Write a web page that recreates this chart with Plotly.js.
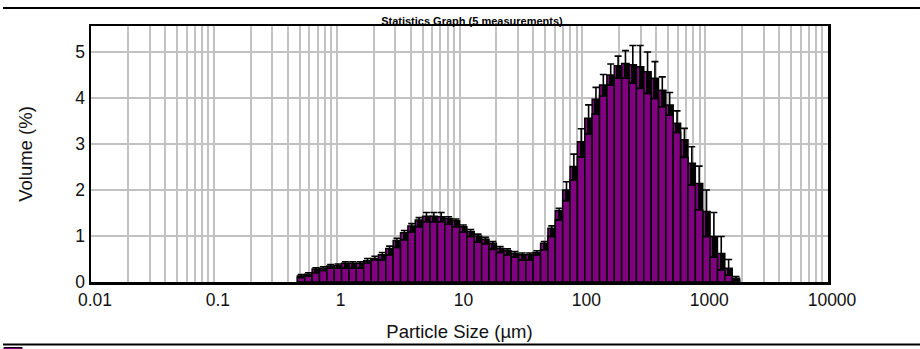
<!DOCTYPE html>
<html>
<head>
<meta charset="utf-8">
<script src="https://cdn.plot.ly/plotly-3.0.1.min.js"></script>
<style>html,body{margin:0;padding:0;background:#fff;}#chart{width:920px;height:349px;}</style>
</head>
<body>
<div id="chart"></div>
<script>
// Size class edges (µm) of the non-empty bins
const sizeEdges = [0.4786, 0.5495, 0.6310, 0.7244, 0.8318, 0.9550, 1.096, 1.259, 1.445, 1.660,
  1.905, 2.188, 2.512, 2.884, 3.311, 3.802, 4.365, 5.012, 5.754, 6.607,
  7.586, 8.710, 10.00, 11.48, 13.18, 15.14, 17.38, 19.95, 22.91, 26.30,
  30.20, 34.67, 39.81, 45.71, 52.48, 60.26, 69.18, 79.43, 91.20, 104.7,
  120.2, 138.0, 158.5, 182.0, 208.9, 239.9, 275.4, 316.2, 363.1, 416.9,
  478.6, 549.5, 631.0, 724.4, 831.8, 955.0, 1096, 1259, 1445, 1660, 1905];

// Mean volume (%) per bin (purple bars)
const volumeMean = [0.10, 0.13, 0.20, 0.25, 0.30, 0.30, 0.30, 0.30, 0.30, 0.42,
  0.48, 0.48, 0.59, 0.75, 0.92, 1.09, 1.20, 1.31, 1.31, 1.31,
  1.26, 1.20, 1.09, 0.99, 0.87, 0.83, 0.71, 0.64, 0.59, 0.54,
  0.48, 0.48, 0.59, 0.70, 0.99, 1.35, 1.77, 2.22, 2.72, 3.22,
  3.65, 4.05, 4.28, 4.43, 4.43, 4.32, 4.21, 4.10, 3.99, 3.81,
  3.63, 3.25, 2.71, 2.11, 1.57, 0.99, 0.54, 0.26, 0.15, 0.04];

// Highest measured volume (%) per bin (outer bars)
const volumeMax = [0.13, 0.17, 0.28, 0.30, 0.35, 0.36, 0.41, 0.41, 0.41, 0.46,
  0.51, 0.59, 0.73, 0.90, 1.07, 1.22, 1.35, 1.43, 1.43, 1.42,
  1.38, 1.33, 1.20, 1.10, 1.00, 0.93, 0.84, 0.73, 0.68, 0.62,
  0.59, 0.59, 0.64, 0.84, 1.17, 1.55, 2.00, 2.51, 3.05, 3.56,
  3.97, 4.28, 4.50, 4.70, 4.75, 4.72, 4.68, 4.57, 4.43, 4.17,
  3.85, 3.45, 3.09, 2.58, 2.14, 1.53, 0.99, 0.62, 0.30, 0.08];

// Top of the error bar (%) per bin
const volumeErrTop = [0.16, 0.20, 0.31, 0.33, 0.38, 0.39, 0.44, 0.44, 0.44, 0.51,
  0.56, 0.64, 0.78, 0.95, 1.12, 1.27, 1.40, 1.51, 1.51, 1.51,
  1.42, 1.37, 1.24, 1.14, 1.04, 0.97, 0.88, 0.77, 0.72, 0.66,
  0.63, 0.63, 0.68, 0.88, 1.22, 1.60, 2.18, 2.78, 3.33, 3.85,
  4.23, 4.51, 4.74, 4.91, 5.03, 5.14, 5.14, 5.00, 4.79, 4.46,
  4.12, 3.72, 3.34, 2.94, 2.52, 2.00, 1.51, 0.99, 0.49, 0.12];

const decadeTicks = [0.01, 0.1, 1, 10, 100, 1000, 10000];
const decadeLabels = ['0.01', '0.1', '1', '10', '100', '1000', '10000'];
const yTicks = [0, 1, 2, 3, 4, 5];

// derived geometry
const lo = sizeEdges.slice(0, -1);
const hi = sizeEdges.slice(1);
const widths = lo.map((v, i) => hi[i] - v);
const bandLo = lo.map((v, i) => v * Math.pow(hi[i] / v, 0.3));
const bandW = bandLo.map((v, i) => hi[i] - v);
const bandH = volumeMax.map((v, i) => Math.max(v - volumeMean[i], 0));
const errUp = volumeErrTop.map((v, i) => v - volumeMean[i]);

// gridline positions
const gridVals = [], gridText = [];
decadeTicks.forEach((d, k) => {
  for (let m = 1; m <= 9; m++) {
    if (k === decadeTicks.length - 1 && m > 1) break;
    gridVals.push(d * m);
    gridText.push(m === 1 ? decadeLabels[k] : '');
  }
});

const purple = '#800080';
const traces = [
  { type: 'bar', x: lo, y: volumeMax, width: widths, offset: 0,
    marker: { color: purple, line: { color: '#000', width: 1.5 } }, hoverinfo: 'skip' },
  { type: 'bar', x: bandLo, y: bandH, base: volumeMean, width: bandW, offset: 0,
    marker: { color: '#000', line: { color: '#000', width: 0 } }, hoverinfo: 'skip' },
  { type: 'bar', x: lo, y: volumeMean, width: widths, offset: 0,
    marker: { color: purple, line: { color: '#000', width: 1.5 } }, hoverinfo: 'skip',
    error_y: { type: 'data', symmetric: false, array: errUp, arrayminus: errUp.map(() => 0),
      color: '#000', thickness: 1.6, width: 3.5 } }
];

const font = 'Liberation Sans, Arial, sans-serif';
const layout = {
  width: 920, height: 349,
  margin: { l: 91, r: 92, t: 26, b: 67, pad: 0 },
  paper_bgcolor: '#fff', plot_bgcolor: '#fff',
  showlegend: false, barmode: 'overlay', bargap: 0,
  font: { family: font, color: '#111' },
  title: { text: '<b>Statistics Graph (5 measurements)</b>', font: { family: font, size: 11, color: '#000' },
    x: 0.513, xref: 'container', xanchor: 'center', y: 0.94, yref: 'container', yanchor: 'middle' },
  xaxis: {
    type: 'log', range: [-2, 4], tickmode: 'array', tickvals: gridVals, ticktext: gridText,
    showgrid: true, gridcolor: '#c2c2c2', gridwidth: 2, zeroline: false,
    showline: true, linecolor: '#000', linewidth: 2.5, mirror: true, ticks: '',
    tickfont: { family: font, size: 17.5, color: '#111' }, ticklabelshift: 4,
    title: { text: 'Particle Size (µm)', font: { family: font, size: 18.5, color: '#111' }, standoff: 17 }
  },
  yaxis: {
    range: [0, 5.565], tickmode: 'array', tickvals: yTicks,
    showgrid: true, gridcolor: '#c2c2c2', gridwidth: 2, zeroline: false,
    showline: true, linecolor: '#000', linewidth: 2.5, mirror: true, ticks: '',
    tickfont: { family: font, size: 17.5, color: '#111' },
    title: { text: 'Volume (%)', font: { family: font, size: 18.5, color: '#111' }, standoff: 38 }
  },
  shapes: [
    { type: 'line', xref: 'paper', yref: 'paper', x0: -0.1194, x1: 1.1248, y0: 1.0703, y1: 1.0703,
      line: { color: '#000', width: 2 } },
    { type: 'line', xref: 'paper', yref: 'paper', x0: -0.1194, x1: 1.1248, y0: -0.2441, y1: -0.2441,
      line: { color: '#000', width: 2 } },
    { type: 'rect', xref: 'paper', yref: 'paper', x0: -0.118, x1: -0.0936, y0: -0.2559, y1: -0.289,
      fillcolor: purple, line: { color: '#000', width: 1 } }
  ]
};

Plotly.newPlot('chart', traces, layout, { staticPlot: true, displayModeBar: false });
</script>
</body>
</html>
